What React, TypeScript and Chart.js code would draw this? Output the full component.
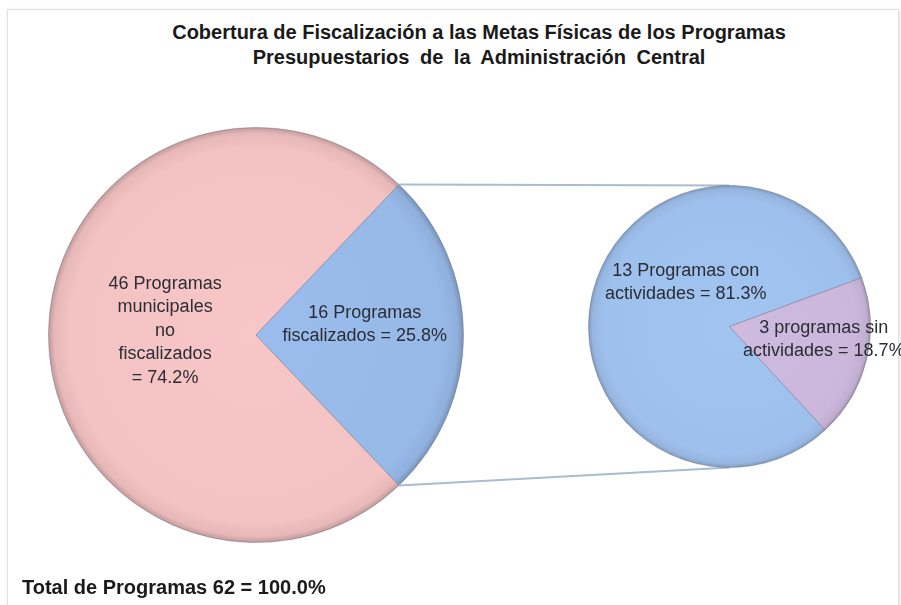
import React, { useEffect, useRef } from "react";
import { Chart, registerables } from "chart.js";

Chart.register(...registerables);

const W = 901;
const H = 605;

const titleLines = [
  "Cobertura de Fiscalización a las Metas Físicas de los Programas",
  "Presupuestarios de la Administración Central",
];
const footerText = "Total de Programas 62 = 100.0%";

// Main pie
const mainCategories = ["Programas municipales no fiscalizados", "Programas fiscalizados"];
const mainValues = [46, 16];
const mainLabelLines = [
  ["46 Programas", "municipales", "no", "fiscalizados", "= 74.2%"],
  ["16 Programas", "fiscalizados = 25.8%"],
];

// Secondary pie (breakdown of fiscalizados)
const subCategories = ["Programas con actividades", "Programas sin actividades"];
const subValues = [13, 3];
const subLabelLines = [
  ["13 Programas con", "actividades = 81.3%"],
  ["3 programas sin", "actividades = 18.7%"],
];

// styles
const mainColors = ["#F3C2C2", "#97B9E8"];
const subColors = ["#9EC0EC", "#CBB7DC"];
const mainLabelOffsets = [[-0.438, -0.021], [0.524, -0.05]];
const subLabelOffsets = [[-0.31, -0.314], [0.669, 0.09]];
const FONT = '"Liberation Sans", Arial, sans-serif';

function shade(hex: string, f: number) {
  const n = parseInt(hex.slice(1), 16);
  const r = Math.round(((n >> 16) & 255) * f);
  const g = Math.round(((n >> 8) & 255) * f);
  const b = Math.round((n & 255) * f);
  return `rgb(${Math.min(255, r)},${Math.min(255, g)},${Math.min(255, b)})`;
}

function gradientFill(colors: string[]) {
  return (c: any) => {
    const chart = c.chart;
    const base = colors[c.dataIndex % colors.length];
    const area = chart.chartArea;
    if (!area) return base;
    const cx = (area.left + area.right) / 2;
    const cy = (area.top + area.bottom) / 2;
    const r = Math.min(area.right - area.left, area.bottom - area.top) / 2;
    const g = chart.ctx.createRadialGradient(cx, cy, 0, cx, cy, r);
    g.addColorStop(0, shade(base, 1.02));
    g.addColorStop(0.9, base);
    g.addColorStop(0.97, shade(base, 0.95));
    g.addColorStop(1, shade(base, 0.78));
    return g;
  };
}

function labelPlugin(lines: string[][], offsets: number[][], lineH: number) {
  return {
    id: "sliceLabels",
    afterDatasetsDraw(chart: any) {
      const meta = chart.getDatasetMeta(0);
      const ctx = chart.ctx;
      ctx.save();
      ctx.font = `18px ${FONT}`;
      ctx.fillStyle = "#2b2d35";
      ctx.textAlign = "center";
      ctx.textBaseline = "middle";
      meta.data.forEach((arc: any, i: number) => {
        const { x, y, outerRadius } = arc.getProps(["x", "y", "outerRadius"], true);
        const cx = x + offsets[i][0] * outerRadius;
        const cy = y + offsets[i][1] * outerRadius;
        const ls = lines[i];
        const n = ls.length;
        ls.forEach((t, k) => ctx.fillText(t, cx, cy + (k - (n - 1) / 2) * lineH));
      });
      ctx.restore();
    },
  };
}

export default function App() {
  const mainRef = useRef<HTMLCanvasElement | null>(null);
  const subRef = useRef<HTMLCanvasElement | null>(null);

  useEffect(() => {
    const mainTotal = mainValues.reduce((a, b) => a + b, 0);
    const fiscDeg = (mainValues[1] / mainTotal) * 360;
    const mainChart = new Chart(mainRef.current as HTMLCanvasElement, {
      type: "pie",
      data: {
        labels: mainCategories,
        datasets: [
          {
            data: mainValues,
            backgroundColor: gradientFill(mainColors),
            borderColor: "rgba(110,110,130,0.45)",
            borderWidth: 1,
            hoverOffset: 0,
          },
        ],
      },
      options: {
        responsive: false,
        animation: false,
        rotation: 90 + fiscDeg / 2,
        layout: { padding: { left: 48, right: 437, top: 127, bottom: 62 } },
        plugins: { legend: { display: false }, tooltip: { enabled: false }, title: { display: false } },
        events: [],
      },
      plugins: [labelPlugin(mainLabelLines, mainLabelOffsets, 23.5)],
    });

    const subTotal = subValues.reduce((a, b) => a + b, 0);
    const sinDeg = (subValues[1] / subTotal) * 360;
    const connector = {
      id: "connector",
      beforeDatasetsDraw(chart: any) {
        const mArc: any = mainChart.getDatasetMeta(0).data[1];
        const sArc: any = chart.getDatasetMeta(0).data[0];
        if (!mArc || !sArc) return;
        const m = mArc.getProps(["x", "y", "startAngle", "endAngle", "outerRadius"], true);
        const s = sArc.getProps(["x", "y", "outerRadius"], true);
        const ctx = chart.ctx;
        ctx.save();
        ctx.strokeStyle = "#A9BCD2";
        ctx.lineWidth = 2;
        ctx.beginPath();
        ctx.moveTo(m.x + m.outerRadius * Math.cos(m.startAngle), m.y + m.outerRadius * Math.sin(m.startAngle));
        ctx.lineTo(s.x, s.y - s.outerRadius);
        ctx.moveTo(m.x + m.outerRadius * Math.cos(m.endAngle), m.y + m.outerRadius * Math.sin(m.endAngle));
        ctx.lineTo(s.x, s.y + s.outerRadius);
        ctx.stroke();
        ctx.restore();
      },
    };

    const subChart = new Chart(subRef.current as HTMLCanvasElement, {
      type: "pie",
      data: {
        labels: subCategories,
        datasets: [
          {
            data: subValues,
            backgroundColor: gradientFill(subColors),
            borderColor: "rgba(110,110,130,0.45)",
            borderWidth: 1,
            hoverOffset: 0,
          },
        ],
      },
      options: {
        responsive: false,
        animation: false,
        rotation: 103.5 + sinDeg / 2,
        layout: { padding: { left: 588, right: 30, top: 180, bottom: 132 } },
        plugins: { legend: { display: false }, tooltip: { enabled: false }, title: { display: false } },
        events: [],
      },
      plugins: [connector, labelPlugin(subLabelLines, subLabelOffsets, 23)],
    });

    return () => {
      subChart.destroy();
      mainChart.destroy();
    };
  }, []);

  return (
    <div style={{ position: "absolute", left: 0, top: 0, width: W, height: H, overflow: "hidden", background: "#fff" }}>
      <div
        style={{
          position: "absolute",
          left: 7,
          top: 9,
          width: 892,
          height: 620,
          border: "1px solid #e2e2e2",
          boxShadow: "1px 1px 4px rgba(0,0,0,0.12)",
          boxSizing: "border-box",
        }}
      />
      <div
        style={{
          position: "absolute",
          left: 0,
          width: 958,
          top: 20,
          textAlign: "center",
          font: `bold 20px ${FONT}`,
          lineHeight: "25px",
          color: "#1a1a1a",
          whiteSpace: "nowrap",
        }}
      >
        {titleLines.map((t, i) => (
          <div key={i} style={{ wordSpacing: i === 1 ? "5px" : "0px" }}>{t}</div>
        ))}
      </div>
      <canvas ref={mainRef} width={W} height={H} style={{ position: "absolute", left: 0, top: 0 }} />
      <canvas ref={subRef} width={W} height={H} style={{ position: "absolute", left: 0, top: 0 }} />
      <div
        style={{
          position: "absolute",
          left: 22,
          top: 575,
          font: `bold 20px ${FONT}`,
          lineHeight: "24px",
          color: "#1a1a1a",
          whiteSpace: "nowrap",
        }}
      >
        {footerText}
      </div>
    </div>
  );
}
